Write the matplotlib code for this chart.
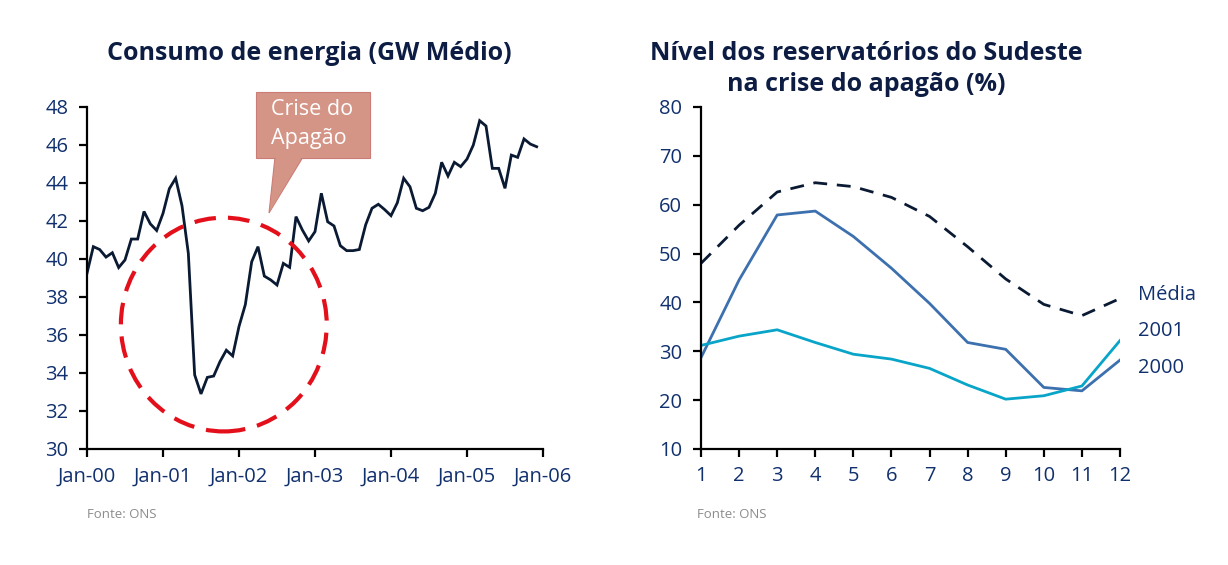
import matplotlib
matplotlib.use("Agg")
import matplotlib.pyplot as plt
from matplotlib.patches import Ellipse, Polygon, Rectangle

# ---------------- data ----------------
consumo = [39.25, 40.65, 40.5, 40.1, 40.33, 39.55, 39.95, 41.05, 41.05, 42.5, 41.85, 41.5,
           42.4, 43.7, 44.25, 42.8, 40.3, 33.9, 32.9, 33.77, 33.84, 34.6, 35.2, 34.9,
           36.45, 37.6, 39.85, 40.65, 39.1, 38.9, 38.63, 39.77, 39.56, 42.23, 41.53, 40.95,
           41.44, 43.46, 41.96, 41.74, 40.7, 40.44, 40.44, 40.5, 41.8, 42.67, 42.88, 42.6,
           42.28, 42.96, 44.25, 43.8, 42.67, 42.54, 42.72, 43.46, 45.09, 44.37, 45.09, 44.86,
           45.26, 46.0, 47.28, 47.0, 44.77, 44.77, 43.72, 45.47, 45.35, 46.32, 46.05, 45.91]
consumo_xticklabels = ["Jan-00", "Jan-01", "Jan-02", "Jan-03", "Jan-04", "Jan-05", "Jan-06"]
consumo_yticks = [30, 32, 34, 36, 38, 40, 42, 44, 46, 48]

meses = [1, 2, 3, 4, 5, 6, 7, 8, 9, 10, 11, 12]
media = [48.0, 55.8, 62.6, 64.5, 63.7, 61.5, 57.6, 51.4, 44.8, 39.6, 37.3, 40.8]
nivel_2000 = [28.7, 44.6, 57.9, 58.7, 53.5, 47.0, 39.8, 31.8, 30.4, 22.6, 21.9, 28.2]
nivel_2001 = [31.2, 33.1, 34.4, 31.8, 29.4, 28.4, 26.5, 23.1, 20.2, 20.9, 22.9, 32.2]
nivel_yticks = [10, 20, 30, 40, 50, 60, 70, 80]
serie_labels = ["Média", "2001", "2000"]
serie_label_y = [41.5, 34.2, 26.6]

# ---------------- style ----------------
FONT = ["Open Sans", "DejaVu Sans"]
plt.rcParams['font.family'] = FONT
NAVY = "#0c1c42"
TICK = "#11306e"
LINE = "#0b1a33"
W, H = 1228, 565
TICKSIZE = 14.5

fig = plt.figure(figsize=(W / 100, H / 100), dpi=100)
fig.patch.set_facecolor("white")


def fx(px):
    return px / W


def fy(py):
    return 1 - py / H


def style_axes(ax):
    for s in ["top", "right"]:
        ax.spines[s].set_visible(False)
    for s in ["left", "bottom"]:
        ax.spines[s].set_linewidth(1.6)
        ax.spines[s].set_color("black")
    ax.tick_params(direction="out", length=5.5, width=1.6, colors="black",
                   labelcolor=TICK, labelsize=TICKSIZE)


# ---------------- left chart ----------------
ax1 = fig.add_axes([fx(87), fy(449), fx(543) - fx(87), fy(107) - fy(449)])
style_axes(ax1)
months = list(range(len(consumo)))
ax1.plot(months, consumo, color=LINE, lw=2.0, solid_joinstyle="miter")
ax1.set_xlim(0, 72)
ax1.set_ylim(30, 48)
ax1.set_yticks(consumo_yticks)
ax1.set_xticks([12 * i for i in range(len(consumo_xticklabels))])
ax1.set_xticklabels(consumo_xticklabels)
ax1.tick_params(axis="x", pad=7)
ax1.tick_params(axis="y", pad=8)

# red dashed circle
circ = Ellipse((21.6, 36.55), 32.5, 11.25, fill=False, ec="#e3101b", lw=3.0,
               ls=(0, (5.2, 2.9)), clip_on=False, zorder=3)
ax1.add_patch(circ)

fig.text(fx(309), fy(54), "Consumo de energia (GW Médio)", ha="center", va="center",
         fontsize=18, fontweight="bold", color=NAVY)

# callout
box_col = "#d49587"
edge_col = "#cc7c76"
tri = Polygon([(fx(275), fy(157)), (fx(303), fy(157)), (fx(269), fy(213))], closed=True,
              transform=fig.transFigure, fc=box_col, ec=edge_col, lw=0.8, zorder=4)
fig.add_artist(tri)
rect = Rectangle((fx(256), fy(158)), fx(370) - fx(256), fy(92) - fy(158),
                 transform=fig.transFigure, fc=box_col, ec=edge_col, lw=0.8, zorder=4)
fig.add_artist(rect)
tri2 = Polygon([(fx(276), fy(156)), (fx(302), fy(156)), (fx(270), fy(211))], closed=True,
               transform=fig.transFigure, fc=box_col, ec="none", zorder=5)
fig.add_artist(tri2)
fig.text(fx(271), fy(124), "Crise do\nApagão", ha="left", va="center", fontsize=15.5,
         color="white", linespacing=1.5, zorder=6)

fig.text(fx(87), fy(514), "Fonte: ONS", ha="left", va="center", fontsize=9.5, color="#8c8c8c")

# ---------------- right chart ----------------
ax2 = fig.add_axes([fx(701), fy(449), fx(1120) - fx(701), fy(107) - fy(449)])
style_axes(ax2)
ax2.plot(meses, media, color=LINE, lw=2.0, ls=(0, (5, 3.5)))
ax2.plot(meses, nivel_2000, color="#3c70ae", lw=2.0)
ax2.plot(meses, nivel_2001, color="#09a5c9", lw=2.0)
ax2.set_xlim(1, 12)
ax2.set_ylim(10, 80)
ax2.set_yticks(nivel_yticks)
ax2.set_xticks(meses)
ax2.tick_params(axis="x", pad=7)
ax2.tick_params(axis="y", pad=8)
for lab, yv in zip(serie_labels, serie_label_y):
    ax2.text(12.47, yv, lab, ha="left", va="center", fontsize=TICKSIZE, color=TICK, clip_on=False)

fig.text(fx(866), fy(69), "Nível dos reservatórios do Sudeste\nna crise do apagão (%)",
         ha="center", va="center", fontsize=18, fontweight="bold", color=NAVY, linespacing=1.3)

fig.text(fx(697), fy(514), "Fonte: ONS", ha="left", va="center", fontsize=9.5, color="#8c8c8c")

fig.savefig("out.png", dpi=100, facecolor="white")
